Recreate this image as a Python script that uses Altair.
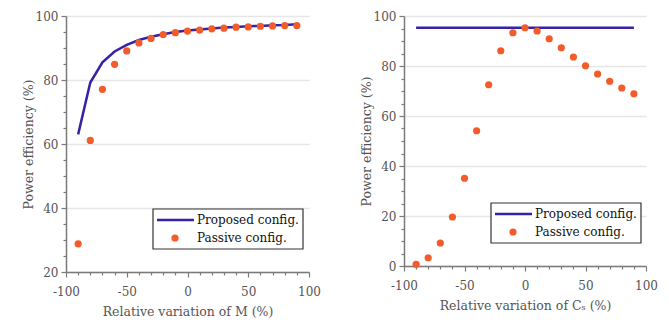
import altair as alt
import pandas as pd

# ---- data ----
variation = [-90, -80, -70, -60, -50, -40, -30, -20, -10, 0, 10, 20, 30, 40, 50, 60, 70, 80, 90]
m_proposed = [63.0, 79.2, 85.5, 88.9, 91.0, 92.5, 93.5, 94.3, 95.0, 95.5, 95.8, 96.1, 96.4, 96.6, 96.8, 96.9, 97.1, 97.2, 97.4]
m_passive = [28.8, 61.1, 77.1, 84.9, 89.1, 91.6, 93.0, 94.2, 94.8, 95.3, 95.6, 96.0, 96.2, 96.5, 96.6, 96.8, 96.9, 97.0, 97.0]
cs_proposed = [95.3, 95.3, 95.3, 95.3, 95.3, 95.3, 95.3, 95.3, 95.3, 95.3, 95.3, 95.3, 95.3, 95.3, 95.3, 95.3, 95.3, 95.3, 95.3]
cs_passive = [0.7, 3.3, 9.2, 19.6, 35.1, 54.1, 72.5, 86.1, 93.3, 95.3, 94.0, 90.9, 87.3, 83.6, 80.1, 76.8, 73.9, 71.2, 68.9]
legend_labels = ["Proposed config.", "Passive config."]
x_ticks = list(range(-100, 101, 10))
y_ticks_m = list(range(20, 101, 5))
y_ticks_cs = list(range(0, 101, 5))

BLUE = "#3422a8"
ORANGE = "#f25c2a"
FONT = "DejaVu Serif"
TXT = "#555555"
AX = "#7a7a7a"


def x_axis(title):
    return alt.Axis(
        values=x_ticks,
        title=title,
        labelExpr="datum.value % 50 == 0 ? '' + datum.value : ''",
        labelOverlap=False,
        labelFlush=False,
        tickSize={"condition": {"test": "datum.value % 50 == 0", "value": 5}, "value": 3},
        grid=False,
        labelPadding=9,
        titlePadding=8,
    )


def y_axis(values):
    return alt.Axis(
        values=values,
        title="Power efficiency (%)",
        labelExpr="datum.value % 20 == 0 ? '' + datum.value : ''",
        labelOverlap=False,
        labelFlush=False,
        tickSize={"condition": {"test": "datum.value % 20 == 0", "value": 5}, "value": 3},
        grid=True,
        gridOpacity={"condition": {"test": "datum.value % 20 == 0", "value": 1}, "value": 0},
        labelPadding=3,
        titlePadding=0,
    )


def panel(proposed, passive, ydom, yvals, xtitle, w, h):
    df_line = pd.DataFrame({"x": variation, "y": proposed})
    df_pts = pd.DataFrame({"x": variation, "y": passive})
    xs = alt.Scale(domain=[-100, 100], nice=False)
    ys = alt.Scale(domain=ydom, nice=False, zero=False)
    xa = x_axis(xtitle)
    ya = y_axis(yvals)
    line = alt.Chart(df_line).mark_line(color=BLUE, strokeWidth=2.5).encode(
        x=alt.X("x:Q", scale=xs, axis=xa),
        y=alt.Y("y:Q", scale=ys, axis=ya),
    )
    pts = alt.Chart(df_pts).mark_circle(color=ORANGE, size=52, opacity=1).encode(
        x=alt.X("x:Q", scale=xs, axis=xa),
        y=alt.Y("y:Q", scale=ys, axis=ya),
    )
    one = alt.Data(values=[{}])
    lx0, ly0 = 87, h - 63
    box = alt.Chart(one).mark_rect(fill="white", stroke="#333333", strokeWidth=1.2).encode(
        x=alt.value(lx0), x2=alt.value(lx0 + 150), y=alt.value(ly0), y2=alt.value(ly0 + 40)
    )
    sym_line = alt.Chart(one).mark_rule(color=BLUE, strokeWidth=2.5).encode(
        x=alt.value(lx0 + 4), x2=alt.value(lx0 + 41), y=alt.value(ly0 + 11)
    )
    sym_pt = alt.Chart(one).mark_circle(color=ORANGE, size=52, opacity=1).encode(
        x=alt.value(lx0 + 22), y=alt.value(ly0 + 29)
    )
    t1 = alt.Chart(one).mark_text(align="left", baseline="middle", font=FONT, fontSize=12, color="#111111").encode(
        x=alt.value(lx0 + 44), y=alt.value(ly0 + 11), text=alt.value(legend_labels[0])
    )
    t2 = alt.Chart(one).mark_text(align="left", baseline="middle", font=FONT, fontSize=12, color="#111111").encode(
        x=alt.value(lx0 + 44), y=alt.value(ly0 + 29), text=alt.value(legend_labels[1])
    )
    return alt.layer(line, pts, box, sym_line, sym_pt, t1, t2).properties(width=w, height=h)


left = panel(m_proposed, m_passive, [20, 100], y_ticks_m, "Relative variation of M (%)", 243, 256)
right = panel(cs_proposed, cs_passive, [0, 100], y_ticks_cs, "Relative variation of C\u209b (%)", 242, 250)

chart = alt.hconcat(left, right, spacing=39).properties(
    padding={"left": 22, "top": 10, "right": 5, "bottom": 0}
).configure_view(stroke=None).configure_axis(
    labelFont=FONT, titleFont=FONT, labelFontSize=12, titleFontSize=12.5,
    labelColor=TXT, titleColor=TXT, titleFontWeight="normal",
    domainColor=AX, tickColor=AX, domainWidth=1.5, tickWidth=1.2,
    gridColor="#e6e6e6", gridWidth=1.5, labelOverlap=False, labelFlush=False,
)

chart.save("out.html", embed_options={"renderer": "svg", "actions": False})
